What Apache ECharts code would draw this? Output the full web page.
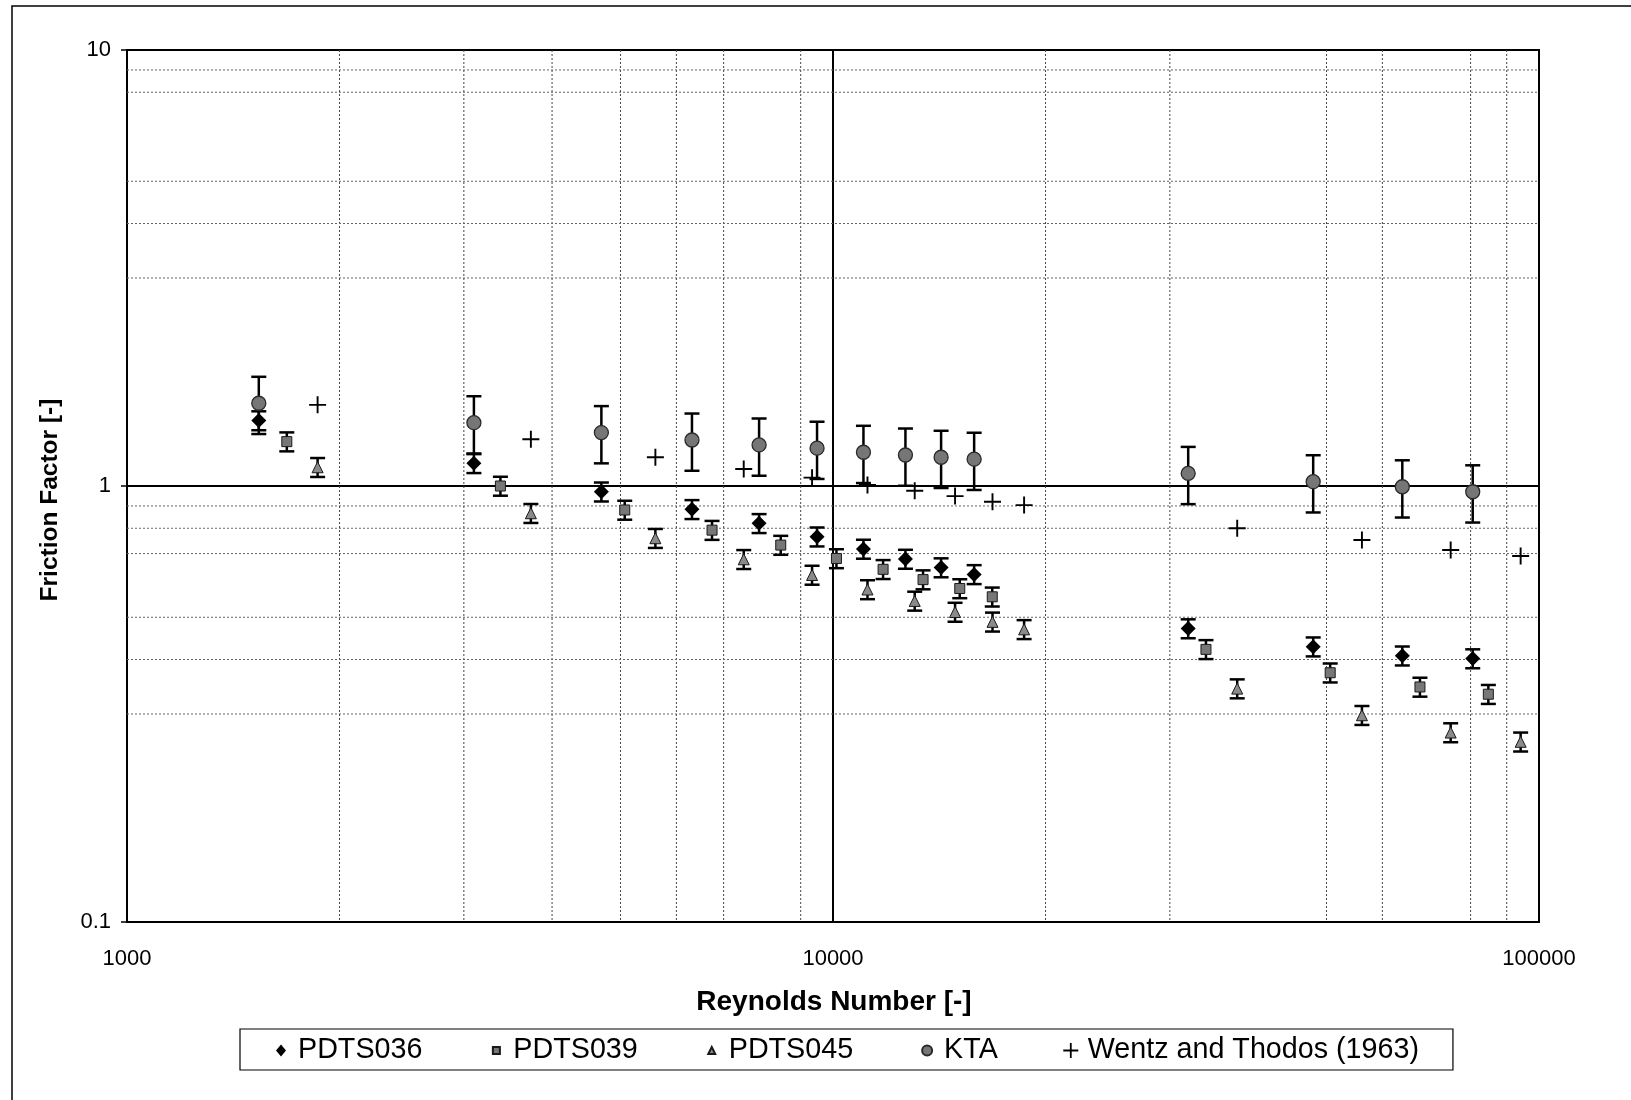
<!DOCTYPE html>
<html>
<head>
<meta charset="utf-8">
<script src="https://cdn.jsdelivr.net/npm/echarts@6/dist/echarts.min.js"></script>
<style>
  html, body { margin: 0; padding: 0; background: #fff; }
  #chart { width: 1631px; height: 1100px; }
</style>
</head>
<body>
<div id="chart"></div>
<script>
const FONT = '"Liberation Sans", Arial, Helvetica, sans-serif';

// Reynolds numbers and measured friction factors for each data set
const rePDTS036 = [1537, 3100, 4698, 6313, 7858, 9493, 11044, 12665, 14227, 15846, 31850, 47880, 64030, 80560];
const fPDTS036  = [1.413, 1.127, 0.970, 0.884, 0.821, 0.765, 0.717, 0.680, 0.650, 0.627, 0.471, 0.428, 0.408, 0.402];

const rePDTS039 = [1684, 3380, 5070, 6740, 8433, 10113, 11775, 13414, 15120, 16810, 33750, 50610, 67820, 84770];
const fPDTS039  = [1.264, 1.000, 0.881, 0.792, 0.732, 0.682, 0.644, 0.610, 0.582, 0.557, 0.422, 0.373, 0.346, 0.333];

const rePDTS045 = [1862, 3733, 5603, 7474, 9340, 11190, 13054, 14890, 16824, 18650, 37370, 56130, 74970, 94190];
const fPDTS045  = [1.104, 0.866, 0.759, 0.679, 0.625, 0.579, 0.545, 0.514, 0.488, 0.469, 0.343, 0.298, 0.272, 0.259];

// KTA correlation evaluated at the PDTS036 Reynolds numbers
const reKTA = [1537, 3100, 4698, 6313, 7858, 9493, 11044, 12665, 14227, 15846, 31850, 47880, 64030, 80560];
const fKTA  = [1.548, 1.397, 1.326, 1.275, 1.242, 1.221, 1.195, 1.178, 1.164, 1.152, 1.069, 1.023, 0.996, 0.970];

// Wentz and Thodos (1963) correlation evaluated at the PDTS045 Reynolds numbers
const reWentz = [1862, 3733, 5603, 7474, 9340, 11190, 13054, 14890, 16824, 18650, 37370, 56130, 74970, 94190];
const fWentz  = [1.535, 1.280, 1.164, 1.094, 1.045, 1.005, 0.975, 0.948, 0.920, 0.904, 0.800, 0.752, 0.713, 0.691];

// relative uncertainty shown by the error bars
const KTA_ERR = 0.15;
const PDTS_ERR = 0.05;

// axis ticks and the dotted minor grid values
const xTickValues = [1000, 10000, 100000];
const xTickLabels = ['1000', '10000', '100000'];
const yTickValues = [0.1, 1, 10];
const yTickLabels = ['0.1', '1', '10'];
const minorX = [2000, 3000, 4000, 5000, 6000, 7000, 9000, 20000, 30000, 50000, 60000, 80000, 90000];
const minorY = [0.3, 0.4, 0.5, 0.7, 0.8, 0.9, 3, 4, 5, 8, 9];

const seriesNames = ['PDTS036', 'PDTS039', 'PDTS045', 'KTA', 'Wentz and Thodos (1963)'];

function pairs(xs, ys) { return xs.map((x, i) => [x, ys[i]]); }

function tickLabel(values, labels) {
  return function (v) {
    let best = 0, bestD = Infinity;
    values.forEach((t, i) => {
      const d = Math.abs(Math.log10(v) - Math.log10(t));
      if (d < bestD) { bestD = d; best = i; }
    });
    return bestD < 0.01 ? labels[best] : '';
  };
}

const barStyle = { stroke: '#000', lineWidth: 2.5, fill: null };
const CAP = 7.5;

function errorBars(name, re, f, rel) {
  return {
    type: 'custom',
    name: name,
    z: 3,
    silent: true,
    data: re.map((r, i) => [r, f[i] * (1 - rel), f[i] * (1 + rel)]),
    encode: { x: 0, y: [1, 2] },
    renderItem: function (params, api) {
      const x = api.value(0);
      const lo = api.coord([x, api.value(1)]);
      const hi = api.coord([x, api.value(2)]);
      return {
        type: 'group',
        children: [
          { type: 'line', shape: { x1: lo[0], y1: lo[1], x2: hi[0], y2: hi[1] }, style: barStyle },
          { type: 'line', shape: { x1: lo[0] - CAP, y1: lo[1], x2: lo[0] + CAP, y2: lo[1] }, style: barStyle },
          { type: 'line', shape: { x1: hi[0] - CAP, y1: hi[1], x2: hi[0] + CAP, y2: hi[1] }, style: barStyle }
        ]
      };
    }
  };
}

const dottedV = { stroke: '#444', lineWidth: 1, lineDash: [2, 2], fill: null };
const dottedH = { stroke: '#666', lineWidth: 1, lineDash: [2, 2], fill: null };

const gridX = {
  type: 'custom', name: 'gridX', z: 1, silent: true,
  data: minorX.map(v => [v, 1]),
  encode: { x: 0, y: 1 },
  renderItem: function (params, api) {
    const p = api.coord([api.value(0), 1]);
    const cs = params.coordSys;
    return { type: 'line', shape: { x1: p[0], y1: cs.y, x2: p[0], y2: cs.y + cs.height }, style: dottedV };
  }
};

const gridY = {
  type: 'custom', name: 'gridY', z: 1, silent: true,
  data: minorY.map(v => [1000, v]),
  encode: { x: 0, y: 1 },
  renderItem: function (params, api) {
    const p = api.coord([1000, api.value(1)]);
    const cs = params.coordSys;
    return { type: 'line', shape: { x1: cs.x, y1: p[1], x2: cs.x + cs.width, y2: p[1] }, style: dottedH };
  }
};

const PLUS = 'path://M7.1,0H8.9V7.1H16V8.9H8.9V16H7.1V8.9H0V7.1H7.1Z';

const chart = echarts.init(document.getElementById('chart'), null, { renderer: 'canvas' });

chart.setOption({
  backgroundColor: '#fff',
  animation: false,
  grid: {
    left: 127, top: 50, width: 1412, height: 872,
    show: true, borderColor: '#000', borderWidth: 2, backgroundColor: 'transparent'
  },
  xAxis: {
    type: 'log', logBase: 10, min: 1000, max: 100000,
    axisLine: { show: true, lineStyle: { color: '#000', width: 2 } },
    axisTick: { show: false },
    axisLabel: { formatter: tickLabel(xTickValues, xTickLabels), fontSize: 22, color: '#000', fontFamily: FONT, margin: 26 },
    splitLine: { show: true, lineStyle: { color: '#000', width: 2 } }
  },
  yAxis: {
    type: 'log', logBase: 10, min: 0.1, max: 10,
    axisLine: { show: true, lineStyle: { color: '#000', width: 2 } },
    axisTick: { show: true, inside: false, length: 6, lineStyle: { color: '#000', width: 1.5 } },
    axisLabel: { formatter: tickLabel(yTickValues, yTickLabels), fontSize: 22, color: '#000', fontFamily: FONT, margin: 16 },
    splitLine: { show: true, lineStyle: { color: '#000', width: 2 } }
  },
  legend: {
    left: 240, top: 1029,
    orient: 'horizontal',
    padding: [7, 34, 5, 33],
    itemWidth: 24, itemHeight: 16, itemGap: 65,
    borderColor: '#000', borderWidth: 1.2, borderRadius: 0,
    backgroundColor: '#fff',
    selectedMode: false,
    textStyle: { fontSize: 28.7, color: '#000', fontFamily: FONT },
    data: [
      { name: seriesNames[0], icon: 'path://M0,0M16,16M8,2L13,8L8,14L3,8Z' },
      { name: seriesNames[1], icon: 'path://M0,0M16,16M4.5,4.5H11.5V11.5H4.5Z' },
      { name: seriesNames[2], icon: 'path://M0,0M16,16M8,4.5L11.5,11.5H4.5Z' },
      { name: seriesNames[3], icon: 'path://M0,0M16,16M3,8A5,5 0 1,0 13,8A5,5 0 1,0 3,8Z' },
      { name: seriesNames[4], icon: 'path://M0,0M16,16M7.1,0.5H8.9V7.1H15.5V8.9H8.9V15.5H7.1V8.9H0.5V7.1H7.1Z' }
    ]
  },
  graphic: [
    // page frame
    { type: 'rect', shape: { x: 12, y: 6, width: 1700, height: 1200 }, style: { fill: null, stroke: '#000', lineWidth: 1.5 }, silent: true, z: 0 },
    // axis titles
    { type: 'text', x: 834, y: 1002, style: { text: 'Reynolds Number [-]', font: 'bold 28px ' + FONT, fill: '#000', align: 'center', verticalAlign: 'middle' }, silent: true },
    { type: 'text', x: 50, y: 500, rotation: Math.PI / 2, style: { text: 'Friction Factor [-]', font: 'bold 24.5px ' + FONT, fill: '#000', align: 'center', verticalAlign: 'middle' }, silent: true }
  ],
  series: [
    gridX,
    gridY,
    errorBars('errKTA', reKTA, fKTA, KTA_ERR),
    errorBars('err036', rePDTS036, fPDTS036, PDTS_ERR),
    errorBars('err039', rePDTS039, fPDTS039, PDTS_ERR),
    errorBars('err045', rePDTS045, fPDTS045, PDTS_ERR),
    {
      type: 'scatter', name: seriesNames[3], z: 4, data: pairs(reKTA, fKTA),
      symbol: 'circle', symbolSize: 14,
      itemStyle: { color: '#767676', borderColor: '#2a2a2a', borderWidth: 1.3, opacity: 1 }
    },
    {
      type: 'scatter', name: seriesNames[0], z: 5, data: pairs(rePDTS036, fPDTS036),
      symbol: 'diamond', symbolSize: [15, 15],
      itemStyle: { color: '#000', opacity: 1 }
    },
    {
      type: 'scatter', name: seriesNames[1], z: 5, data: pairs(rePDTS039, fPDTS039),
      symbol: 'rect', symbolSize: 10,
      itemStyle: { color: '#777', borderColor: '#1a1a1a', borderWidth: 1, opacity: 1 }
    },
    {
      type: 'scatter', name: seriesNames[2], z: 5, data: pairs(rePDTS045, fPDTS045),
      symbol: 'triangle', symbolSize: 11,
      itemStyle: { color: '#8a8a8a', borderColor: '#1a1a1a', borderWidth: 1, opacity: 1 }
    },
    {
      type: 'scatter', name: seriesNames[4], z: 5, data: pairs(reWentz, fWentz),
      symbol: PLUS, symbolSize: 17,
      itemStyle: { color: '#000', opacity: 1 }
    }
  ]
});
</script>
</body>
</html>
